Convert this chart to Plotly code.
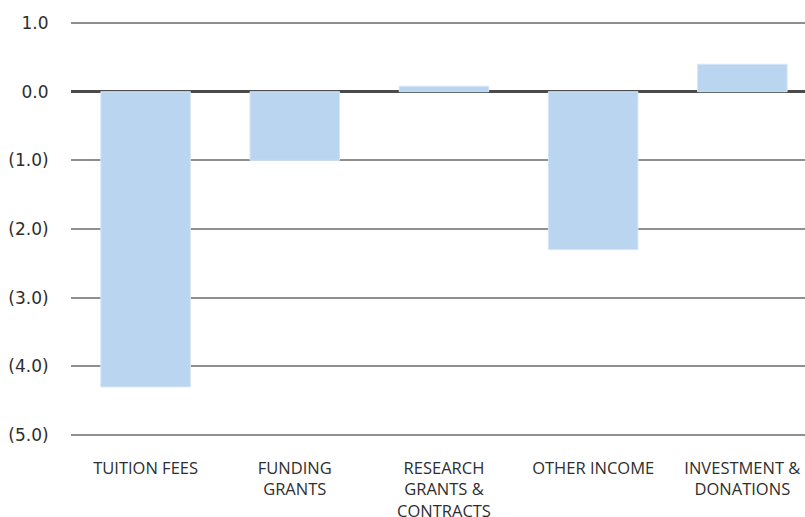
import plotly.graph_objects as go

categories = ["TUITION FEES", "FUNDING<br>GRANTS", "RESEARCH<br>GRANTS &<br>CONTRACTS", "OTHER INCOME", "INVESTMENT &<br>DONATIONS"]
values = [-4.3, -1.0, 0.08, -2.3, 0.4]
tick_vals = [1, 0, -1, -2, -3, -4, -5]
tick_text = ["1.0", "0.0", "(1.0)", "(2.0)", "(3.0)", "(4.0)", "(5.0)"]

fig = go.Figure()
fig.add_trace(go.Bar(
    x=list(range(len(categories))), y=values, width=0.6,
    marker=dict(color="#bad5ef", line=dict(color="#d4e5f5", width=1)),
))

fig.update_layout(
    width=805, height=517,
    margin=dict(l=71, r=0, t=21, b=80),
    paper_bgcolor="white", plot_bgcolor="white",
    font=dict(family="Open Sans", size=16, color="#2e2e2e"),
    showlegend=False, bargap=0.4,
    xaxis=dict(tickvals=list(range(len(categories))), ticktext=categories,
               range=[-0.5, 4.42], showgrid=False, zeroline=False, showline=False,
               automargin=False,
               ticks="outside", ticklen=16, tickcolor="rgba(0,0,0,0)",
               tickfont=dict(family="Open Sans", size=16.5, color="#2e2e2e")),
    yaxis=dict(range=[-5.03, 1.03], tickvals=tick_vals, ticktext=tick_text,
               showgrid=True, gridcolor="#8f8f8f", gridwidth=2,
               zeroline=True, zerolinecolor="#4a4a4a", zerolinewidth=3,
               automargin=False,
               showline=False, ticks="outside", ticklen=18, tickcolor="rgba(0,0,0,0)",
               tickfont=dict(family="DejaVu Sans", size=17, color="#2e2e2e")),
)

fig.write_html("out.html", config={"displayModeBar": False},
               post_script="document.body.style.margin='0';")
